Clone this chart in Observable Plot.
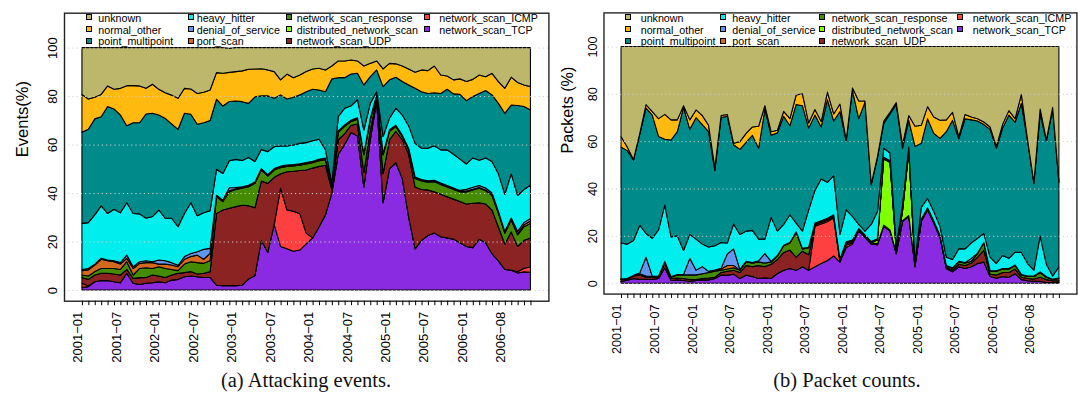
<!DOCTYPE html>
<html><head><meta charset="utf-8">
<script src="https://cdn.jsdelivr.net/npm/d3@7"></script>
<script src="https://cdn.jsdelivr.net/npm/@observablehq/plot@0.6"></script>
<style>
body{margin:0;background:#fff;}
#root{position:relative;width:1078px;height:393px;overflow:hidden;font-family:"Liberation Sans",Arial,sans-serif;background:#fff;}
.panel{position:absolute;top:0;}
.leg{position:absolute;font-size:10.7px;line-height:12px;white-space:nowrap;color:#000;}
.sw{position:absolute;width:4px;height:4px;border:1px solid #000;}
.cap{position:absolute;top:369.5px;font-family:"Liberation Serif","Times New Roman",serif;font-size:20.5px;line-height:1;transform:translateX(-50%);white-space:nowrap;color:#111;}
</style></head>
<body><div id="root"></div>
<script>
const months = ["2001-01","2001-02","2001-03","2001-04","2001-05","2001-06","2001-07","2001-08","2001-09","2001-10","2001-11","2001-12",
"2002-01","2002-02","2002-03","2002-04","2002-05","2002-06","2002-07","2002-08","2002-09","2002-10","2002-11","2002-12",
"2003-01","2003-02","2003-03","2003-04","2003-05","2003-06","2003-07","2003-08","2003-09","2003-10","2003-11","2003-12",
"2004-01","2004-02","2004-03","2004-04","2004-05","2004-06","2004-07","2004-08","2004-09","2004-10","2004-11","2004-12",
"2005-01","2005-02","2005-03","2005-04","2005-05","2005-06","2005-07","2005-08","2005-09","2005-10","2005-11","2005-12",
"2006-01","2006-02","2006-03","2006-04","2006-05","2006-06","2006-08","2006-09","2006-10","2006-11","2006-12"];
const tickLabels = ["2001-01","2001-07","2002-01","2002-07","2003-01","2003-07","2004-01","2004-07","2005-01","2005-07","2006-01","2006-08"];
const yTicks = [0,20,40,60,80,100];

const legendOrder = ["unknown","normal_other","point_multipoint","heavy_hitter","denial_of_service","port_scan",
  "network_scan_response","distributed_network_scan","network_scan_UDP","network_scan_ICMP","network_scan_TCP"];
const legendColors = ["#BDB76B","#FFB90F","#008B8B","#00EEEE","#6495ED","#D2691E","#458B00","#7FFF00","#8B2323","#FF4040","#8A2BE2"];

// (a) Attacking events, % per month
const evTCP = [1.1,1.4,3.4,3.9,3.9,3.4,3.0,6.9,2.8,2.3,2.8,3.0,3.4,3.0,4.1,4.4,5.5,5.8,5.5,5.2,5.2,
 2.0,1.8,1.8,1.8,2.0,4.5,6.0,20.5,15.5,27.0,18.0,17.0,16.0,16.5,19.0,21.5,26.0,31.0,40.0,56.0,
 60.0,65.0,63.5,42.5,62.0,78.0,36.0,50.0,52.5,46.0,30.0,17.0,20.5,22.5,23.5,22.0,21.5,21.0,19.5,18.0,
 17.5,21.0,19.5,15.0,12.0,8.5,8.2,7.0,7.5,7.3];
const evICMP = [1.7,0.3,0,0,0,0,0,0,0,0,0,0,0,0,0,0,0,0,0,0,0,
 0,0,0,0,0,0,0,0,0,0,24.0,16.0,16.5,15.0,4.5,0,0,0,0,0,
 0,0,0,0,0,0,0,0,0,0,0,0,0,0,0,0,0,0,0,0,
 0,0,0,0,0,0,0,0.5,1.5,2.2];
const evUDP = [2.4,2.7,2.8,3.0,3.0,3.2,3.2,1.6,2.0,2.8,2.4,3.2,2.4,2.2,2.1,2.5,1.7,1.8,1.1,1.7,2.4,
 29.6,31.2,31.9,32.6,33.0,30.3,28.0,24.5,28.5,19.5,6.0,15.8,16.5,17.8,26.0,28.8,25.0,20.5,1.5,6.0,
 4.5,3.0,5.0,6.0,4.0,1.0,12.0,12.0,13.0,16.0,26.0,25.5,21.0,18.8,17.0,17.5,17.0,16.5,17.0,17.5,
 18.3,15.0,16.0,18.0,14.0,10.5,15.8,10.5,11.5,12.0];
const evDistributed = [0,0,0,0,0,0,0,0,0,0,0,0,0,0,0,0,0,0,0,0,0,
 0,0,0,0,0,0,0,0,0,0,0,0,0,0,0,0,0,0,0,0,
 0,0,0,0,0,0,0,0,0,0,0,0,0,0,0,0,0,0,0,0,
 0,0,0,0,0,0,0,0,0,0];
const evResponse = [1.0,1.4,1.4,2.0,2.0,2.3,2.3,3.2,1.4,3.8,4.0,2.7,3.8,3.7,2.3,1.1,3.5,4.1,4.7,4.1,4.5,
 6.9,3.5,6.9,7.1,7.0,7.8,10.0,4.5,3.0,3.0,2.5,2.2,2.2,2.2,2.5,2.2,2.3,2.3,1.1,3.0,
 3.0,1.5,2.0,7.2,4.2,1.0,7.7,3.5,1.9,1.3,1.8,3.5,3.5,3.2,4.2,4.0,4.0,4.0,4.0,5.0,
 5.5,6.0,5.5,6.0,5.6,4.4,4.9,4.7,5.6,6.0];
const evPortScan = [1.8,2.5,2.7,3.8,3.2,2.8,2.2,1.4,2.7,2.1,2.1,2.4,1.1,1.8,1.8,1.6,2.0,2.1,3.1,1.7,3.0,
 0.3,0.3,0.3,0.3,0.3,0.3,0.3,0.3,0.3,0.3,0.3,0.3,0.3,0.3,0.3,0.3,0.3,0.3,0.3,0.3,
 0.3,0.3,0.3,0.3,0.3,0.3,0.3,0.3,0.3,0.3,0.3,0.3,0.3,0.3,0.3,0.3,0.3,0.3,0.3,0.3,
 0.3,0.3,0.3,0.3,0.3,0.3,0.3,0.5,0.8,1.0];
const evDoS = [0.5,0.6,0.4,0.4,0.3,0.4,0.6,1.3,0.7,0.7,0.8,0.4,1.7,1.4,1.0,0.6,1.1,1.3,1.4,4.1,2.1,
 0.3,0.3,1.3,0.5,0.3,0.3,0.3,0.3,0.3,0.3,0.3,0.3,0.3,0.3,0.3,0.3,0.3,0.3,0.3,0.3,
 0.3,0.3,0.3,0.3,0.3,0.3,0.3,0.3,0.3,0.3,0.3,0.3,0.3,0.3,0.3,0.3,0.3,0.3,0.3,0.8,
 0.8,0.8,0.8,0.8,0.5,0.5,0.5,1.0,1.0,1.0];
const evHeavy = [19.0,18.9,20.3,21.6,19.2,21.2,20.6,21.6,22.0,19.7,17.5,18.6,20.6,17.5,18.3,15.9,17.8,20.9,14.8,15.1,15.5,
 10.7,11.0,11.1,11.6,10.8,11.5,8.4,7.9,9.5,9.0,8.3,7.8,8.0,8.4,8.2,8.5,8.3,3.6,0.8,5.9,
 6.9,5.9,7.4,9.7,6.2,1.2,7.0,4.8,7.0,8.3,9.3,13.9,12.9,13.4,14.2,13.7,14.7,13.9,12.9,10.4,
 12.1,10.4,12.4,12.9,15.6,15.3,18.3,14.8,13.6,13.8];
const evPointMulti = [37.6,38.5,39.6,36.8,44.1,41.4,40.3,31.8,37.4,37.6,43.0,42.6,39.2,41.2,38.9,40.2,41.3,36.5,37.8,37.1,37.2,
 28.9,27.8,24.5,24.1,24.3,22.3,26.7,22.1,23.0,20.0,21.1,19.4,19.7,20.0,21.0,21.2,20.3,23.8,43.1,16.1,
 12.6,13.1,10.9,18.6,11.0,9.0,20.6,15.8,12.8,13.8,16.9,22.7,23.3,22.6,21.9,23.3,25.0,24.9,26.7,26.1,
 25.3,27.6,27.8,27.5,29.0,33.4,28.3,37.1,34.2,31.0];
const evNormal = [15.6,12.5,8.9,9.2,8.5,8.1,11.0,16.5,15.3,15.2,10.6,12.0,10.6,10.6,11.9,12.8,10.3,10.4,12.7,12.6,12.6,
 11.0,13.5,12.0,12.1,12.7,14.1,11.5,11.2,10.7,11.0,6.2,10.3,8.1,8.2,8.3,8.4,9.0,9.0,5.3,6.9,
 6.9,5.8,5.1,7.8,5.5,3.7,7.3,6.8,5.5,6.4,6.6,6.6,9.0,9.4,11.0,7.6,5.5,5.8,6.4,7.9,
 7.1,7.6,5.7,8.9,9.0,10.3,11.5,9.5,8.9,9.6];
const evUnknown = [19.3,21.2,20.5,19.3,15.8,17.2,16.8,15.7,15.7,15.8,16.8,15.1,17.2,18.6,19.6,20.9,16.8,17.1,18.9,18.4,17.5,
 10.3,10.6,9.9,9.9,9.6,8.9,8.8,8.7,9.2,9.9,13.3,10.9,12.4,11.3,9.9,8.8,8.5,9.2,7.6,5.5,
 5.5,5.1,5.5,7.6,6.5,5.5,8.8,6.5,6.7,7.6,8.8,10.2,9.2,9.5,7.6,11.3,11.7,13.3,12.9,14.0,
 13.1,11.3,12.0,10.6,14.0,16.8,12.2,14.4,15.4,16.1];

// (b) Packet counts, % per month
const pkTCP = [0.7,1.2,2.0,1.6,1.6,1.6,2.0,6.5,1.1,1.4,1.1,0.7,1.1,1.4,1.4,2.0,3.4,3.4,3.8,2.0,3.4,
 2.8,2.0,2.3,2.0,4.1,5.5,6.2,5.5,6.9,5.5,6.9,8.3,9.6,11.5,8.9,15.1,16.5,22.0,19.3,16.5,
 16.2,24.0,22.0,12.4,26.0,28.2,6.9,26.1,31.0,25.4,19.3,6.2,4.8,6.9,6.2,6.9,8.3,8.9,2.8,2.1,
 2.8,2.5,4.0,1.5,1.0,0.8,0.8,0.3,0.3,0.3];
const pkICMP = [0,0,0,0,0,0,0,0,0,0,0,0,0,0,0,0,0,0,0,0,0,
 0,0,0,0,0,0,0,0,0,0,17.1,16.7,16.4,16.0,0,1.0,0.5,0,0,0,
 0,0,0,0,0,0,0,0,0,0,0,0,0,0,0,0,0,0,0,0,
 0,0,0,0,0,0,0,0,0,0];
const pkUDP = [0.8,0.6,1.0,1.9,0.9,0.9,0.5,2.0,0.9,0.8,0.9,0.8,0.4,0.6,0.8,0.5,1.1,1.6,1.7,2.5,4.1,
 4.2,5.5,4.7,6.0,5.9,7.5,7.8,5.5,6.6,6.5,0.7,0.7,0.7,0.7,0.6,0.8,0.6,0.5,0.5,0.5,
 0.5,0.5,0.5,0.4,0.4,0.4,0.4,0.4,0.4,0.4,0.4,0.6,0.7,1.1,1.3,1.6,2.7,5.1,1.0,1.4,
 1.7,2.0,2.0,1.0,1.0,1.0,1.7,1.2,0.7,0.7];
const pkDistributed = [0,0,0,0,0,0,0,0,0,0,0,0,0,0,0,0,0,0,0,0,0,
 0,0,0,0,0,0,0,0,0,0,0,0,0,0,0,0,0,0,0,0,
 1.5,28.0,28.5,1.0,4.0,27.1,0.2,0,0,0,0,0,0,0,0,0,0,0,0,0,
 0,0,0,0,0,0,0,0,0,0];
const pkResponse = [0.3,0.2,0.3,0.5,0.5,0.3,0.2,0.5,0.5,1.3,1.5,2.0,2.0,2.0,2.3,2.5,1.0,1.0,1.0,1.0,1.5,
 1.5,1.5,1.5,1.0,1.5,2.8,3.0,10.5,1.0,3.0,0.5,0.5,0.5,0.5,0.5,0.4,0.4,0.4,0.4,0.4,
 0.4,0.5,0.5,0.3,0.3,0.3,0.3,0.3,0.3,0.3,0.3,0.5,0.8,1.0,1.0,0.8,1.5,3.0,1.2,1.5,
 1.5,1.5,1.5,1.0,0.8,1.0,2.0,1.0,0.5,1.0];
const pkPortScan = [0,0,0,0,0,0,0,0,0,0,0,0,0,0,0,0.3,0.5,1.5,1.0,0,0,
 0,0,0,0,0,0,0,0,0,0,0,0,0,0,0,0,0,0,0,0,
 0,0,0,0,0,0,0,0,0,0,0,0,0,0,0,0,0,0,0,0,
 0,0,0,0,0,0,0,0,0,0];
const pkDoS = [0,0,0,0.3,8.0,0.2,0.2,0.2,0.2,0.2,0.2,7.0,2.0,3.0,0.5,0.3,0.3,4.9,7.0,0.3,0.2,
 0.2,0.5,4.0,0.2,0.2,0.2,0.2,0.2,0.2,0.2,0.2,0.2,0.2,0.2,0.2,0.2,0.2,0.2,0.2,0.2,
 0.2,0.2,0.2,0.2,0.2,0.2,0.2,0.2,0.2,0.2,0.2,0.2,0.2,0.2,0.2,1.2,0.2,0.2,0.2,0.2,
 0.2,0.2,0.2,0.2,0.2,0.2,0.2,0.2,0.2,0.2];
const pkHeavy = [15.2,14.5,14.7,20.2,10.0,16.0,19.6,23.8,16.8,16.3,10.1,10.1,13.1,9.5,10.3,10.2,10.9,4.6,10.5,14.8,12.8,
 13.6,9.1,6.1,18.6,10.3,8.8,11.7,3.7,7.3,15.8,13.8,17.6,15.2,16.5,10.4,13.5,10.0,1.7,1.6,7.2,
 11.5,3.8,3.3,1.7,2.1,1.3,1.0,5.0,3.9,4.0,3.8,3.5,3.5,5.3,5.8,6.5,6.3,3.8,5.8,3.1,
 5.5,4.3,5.4,9.3,5.3,2.5,15.2,5.3,1.3,4.7];
const pkPointMulti = [40.5,39.5,34.0,38.5,53.0,52.0,39.5,27.8,41.0,44.0,60.5,44.4,51.4,50.5,48.7,31.7,52.8,53.5,33.5,35.9,37.5,
 40.2,38.4,54.9,34.7,41.5,45.7,37.6,50.1,53.0,34.5,31.8,22.0,34.9,23.1,51.9,29.0,53.3,44.7,54.5,16.7,
 22.7,10.5,16.5,59.5,24.0,11.3,48.8,27.1,33.7,33.0,37.2,53.0,58.8,46.5,55.0,52.0,49.5,46.0,54.0,48.7,
 53.8,60.5,54.9,63.0,51.7,36.5,51.6,52.0,70.5,35.6];
const pkNormal = [4.5,1.5,0.3,0.3,1.4,1.5,7.5,10.5,8.5,5.0,0.7,4.0,3.2,3.8,2.7,1.3,0.8,0.8,0.6,3.3,3.8,
 3.5,9.3,1.5,1.5,1.1,2.1,3.0,4.0,5.0,2.2,2.4,2.3,3.2,3.0,3.2,0.5,1.0,7.5,0.5,0.5,
 0.6,1.0,0.7,0.8,1.5,2.0,8.5,7.6,5.1,6.9,7.6,5.0,3.4,0.9,1.8,1.2,1.0,1.1,1.0,0.8,
 1.6,1.9,1.5,3.8,0.5,0.6,2.1,0.5,0.8,0.5];
const pkUnknown = [38,42.5,47.7,36.7,24.6,27.5,30.5,28.7,31,31,25,31,26.8,29.2,33.3,51.2,29.2,28.7,40.9,40.2,36.7,
 34,33.7,25,36,35.4,27.4,30.5,20.5,20,32.3,26.6,31.7,19.3,28.5,24.3,39.5,17.5,23,23,58,
 46.4,31.5,27.8,23.7,41.5,29.2,33.7,33.3,25.4,29.8,31.2,31,27.8,38.1,28.7,29.8,30.5,31.9,34,42.2,
 32.9,27.1,30.5,20.2,39.5,57.4,26.4,39.5,25.7,57];

const eventsSeries = {unknown: evUnknown, normal_other: evNormal, point_multipoint: evPointMulti, heavy_hitter: evHeavy,
  denial_of_service: evDoS, port_scan: evPortScan, network_scan_response: evResponse, distributed_network_scan: evDistributed,
  network_scan_UDP: evUDP, network_scan_ICMP: evICMP, network_scan_TCP: evTCP};
const packetsSeries = {unknown: pkUnknown, normal_other: pkNormal, point_multipoint: pkPointMulti, heavy_hitter: pkHeavy,
  denial_of_service: pkDoS, port_scan: pkPortScan, network_scan_response: pkResponse, distributed_network_scan: pkDistributed,
  network_scan_UDP: pkUDP, network_scan_ICMP: pkICMP, network_scan_TCP: pkTCP};

const stackOrder = legendOrder.slice().reverse(); // bottom first
const tickIdx = tickLabels.map(l => months.indexOf(l));
const allIdx = months.map((m, i) => i);

function makePanel(series, yLabel, yLabelDx, yTickDx) {
  const data = [];
  for (const name of stackOrder) series[name].forEach((v, i) => data.push({i, series: name, value: v}));
  return Plot.plot({
    width: 550, height: 393,
    marginLeft: 64, marginRight: 1.6, marginTop: 12.7, marginBottom: 92.3,
    x: {domain: [-2.8, 72.8], axis: null},
    y: {domain: [-4.4, 114.4], axis: null},
    color: {domain: legendOrder, range: legendColors},
    style: {fontFamily: "Liberation Sans, Arial, sans-serif", background: "transparent", overflow: "visible"},
    marks: [
      Plot.areaY(data, {x: "i", y: "value", z: "series", fill: "series", order: stackOrder,
        stroke: "#000", strokeWidth: 1.1, strokeLinejoin: "round"}),
      Plot.ruleY(yTicks, {stroke: "#d0d0d0", strokeDasharray: "1.2,3", strokeWidth: 1}),
      Plot.frame({stroke: "#222", strokeWidth: 1.4}),
      Plot.axisX({ticks: allIdx, tickSize: 4.5, tickFormat: () => "", anchor: "bottom", stroke: "#000", label: null}),
      Plot.text(tickIdx, {x: d => d, text: d => months[d].replace("-", "\u2212"), frameAnchor: "bottom",
        dy: 10.5, rotate: -90, textAnchor: "end", fontSize: 13, fill: "#000"}),
      Plot.text(yTicks, {y: d => d, text: d => String(d), frameAnchor: "left", dx: yTickDx,
        rotate: -90, textAnchor: "middle", fontSize: 13, fill: "#000"}),
      Plot.text([yLabel], {text: d => d, frameAnchor: "left", dx: yLabelDx, rotate: -90, fontSize: 16.5, fill: "#000"})
    ]
  });
}

const root = document.getElementById("root");
function addPanel(node, left) {
  const d = document.createElement("div");
  d.className = "panel"; d.style.left = left + "px";
  d.appendChild(node); root.appendChild(d);
}
addPanel(makePanel(eventsSeries, "Events(%)", -42, -12), 0);
addPanel(makePanel(packetsSeries, "Packets (%)", -36.5, -11), 541);

// legends (column-major, 3 rows)
const rowY = [17.3, 29.3, 41];
function addLegend(swX, txX) {
  legendOrder.forEach((name, k) => {
    const col = Math.floor(k / 3), row = k % 3;
    const sw = document.createElement("div");
    sw.className = "sw";
    sw.style.left = swX[col] + "px"; sw.style.top = (rowY[row] - 3) + "px";
    sw.style.background = legendColors[k];
    root.appendChild(sw);
    const t = document.createElement("div");
    t.className = "leg"; t.textContent = name;
    t.style.left = txX[col] + "px"; t.style.top = (rowY[row] - 5.7) + "px";
    root.appendChild(t);
  });
}
addLegend([86, 187.5, 285.5, 424], [98.3, 196.7, 296.7, 439.3]);
addLegend([624.5, 719.5, 818.5, 957], [640.7, 732.3, 831.7, 972.7]);

function addCap(text, cx) {
  const c = document.createElement("div");
  c.className = "cap"; c.textContent = text; c.style.left = cx + "px";
  root.appendChild(c);
}
addCap("(a) Attacking events.", 306);
addCap("(b) Packet counts.", 847);
</script>
</body></html>
